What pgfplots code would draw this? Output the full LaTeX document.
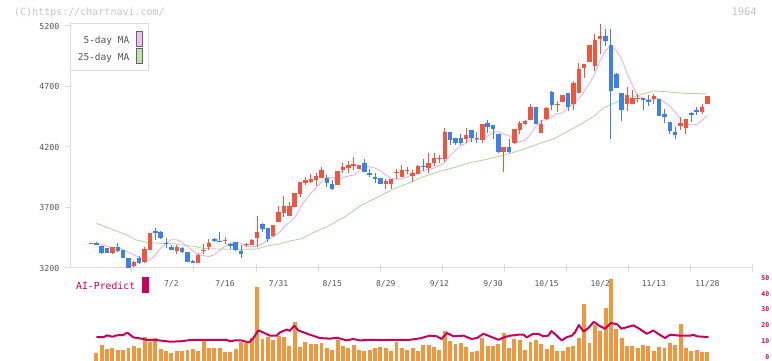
\documentclass[border=0pt]{standalone}
\usepackage{fontspec}
\setmainfont{DejaVu Sans Mono}
\usepackage{pgfplots}
\pgfplotsset{compat=1.18}
\usepackage{pgfplotstable}
\definecolor{candleup}{HTML}{F0553F}
\definecolor{candledn}{HTML}{3F7FE8}
\definecolor{mafive}{HTML}{E6B2E6}
\definecolor{matwentyfive}{HTML}{B2D9A2}
\definecolor{mafivebox}{HTML}{F0C0F0}
\definecolor{matwentyfivebox}{HTML}{C0E0B0}
\definecolor{vol}{HTML}{F0963C}
\definecolor{ai}{HTML}{C8005A}
\definecolor{axisgray}{HTML}{DDDDDD}
\definecolor{labgray}{HTML}{555555}
\definecolor{faint}{HTML}{C4C4C4}

% candles: index, open, high, low, close
\pgfplotstableread{
i o h l c
0 3400 3408 3400 3408
4 3327 3376 3313 3376
8 3217 3261 3206 3247
10 3252 3376 3239 3357
11 3349 3487 3349 3487
16 3341 3390 3313 3376
20 3244 3321 3244 3307
21 3337 3396 3313 3345
22 3371 3440 3349 3404
25 3422 3453 3396 3430
29 3393 3409 3376 3401
30 3390 3437 3390 3434
31 3448 3630 3371 3498
34 3464 3555 3453 3555
35 3580 3712 3580 3663
36 3657 3795 3624 3712
37 3630 3748 3630 3712
38 3707 3823 3707 3823
39 3812 3911 3790 3911
40 3900 3949 3886 3927
41 3911 3977 3900 3933
42 3927 3982 3878 3960
43 3947 4037 3947 4010
46 3886 3999 3886 3999
47 4010 4071 3982 4032
48 4026 4087 3982 4048
49 4046 4115 4010 4060
50 4021 4051 4021 4051
55 3897 3938 3856 3922
56 3897 3938 3856 3938
57 3986 4015 3938 3994
58 3949 4054 3949 4010
59 3998 4038 3977 4006
60 3960 4010 3913 3985
61 3980 4049 3980 4043
63 4027 4148 3982 4065
64 4071 4148 4043 4109
65 4105 4134 4071 4113
66 4098 4357 4079 4324
70 4266 4357 4236 4296
73 4258 4390 4236 4390
77 4161 4200 3996 4200
79 4230 4349 4225 4349
80 4341 4418 4307 4401
81 4390 4423 4382 4418
82 4423 4555 4423 4533
84 4319 4423 4319 4390
85 4429 4528 4423 4522
87 4546 4583 4489 4554
88 4575 4633 4575 4633
90 4553 4746 4506 4726
91 4646 4892 4646 4845
92 4850 4883 4773 4883
93 4905 5043 4905 5043
94 4872 5131 4828 5084
95 5093 5214 4971 5117
100 4553 4699 4500 4630
101 4555 4671 4555 4602
102 4594 4635 4569 4608
105 4597 4635 4553 4622
110 4374 4451 4341 4401
111 4360 4431 4310 4431
114 4492 4553 4476 4531
115 4553 4622 4553 4622
}\upcandles

\pgfplotstableread{
i o h l c
1 3409 3415 3390 3393
2 3382 3382 3313 3327
3 3363 3368 3327 3327
5 3376 3404 3335 3343
6 3349 3349 3280 3280
7 3280 3280 3203 3203
9 3285 3299 3233 3244
12 3506 3528 3431 3487
13 3500 3506 3440 3445
14 3409 3445 3368 3396
15 3376 3390 3349 3349
17 3368 3376 3321 3329
18 3335 3335 3252 3252
19 3261 3266 3239 3244
23 3440 3451 3418 3426
24 3426 3495 3418 3418
26 3396 3404 3357 3385
27 3412 3418 3341 3349
28 3341 3390 3280 3316
32 3564 3575 3500 3525
33 3531 3531 3418 3440
44 3944 3971 3872 3905
45 3894 3927 3845 3856
51 4065 4101 3993 3993
52 3985 4021 3949 3971
53 3952 3982 3900 3938
54 3944 3944 3897 3897
62 4043 4098 4004 4032
67 4324 4324 4217 4258
68 4274 4274 4217 4236
69 4274 4307 4217 4236
71 4338 4338 4244 4272
72 4277 4324 4236 4263
74 4401 4423 4319 4368
75 4382 4382 4269 4349
76 4308 4308 4148 4161
78 4200 4266 4148 4159
83 4533 4533 4390 4390
86 4655 4666 4506 4550
89 4646 4649 4500 4533
96 5117 5175 5038 5079
97 5043 5175 4266 4663
98 4801 4809 4685 4691
99 4644 4644 4415 4506
103 4602 4602 4506 4586
104 4586 4630 4542 4575
106 4597 4597 4459 4459
107 4473 4514 4396 4451
108 4409 4409 4310 4332
109 4324 4362 4263 4299
112 4481 4487 4409 4465
113 4506 4533 4465 4492
}\dncandles

\pgfplotstableread{
i m
0 3405
1 3404
2 3392
3 3378
4 3370
5 3366
6 3353
7 3331
8 3306
9 3290
10 3263
11 3266
12 3308
13 3364
14 3404
15 3434
16 3433
17 3411
18 3379
19 3340
20 3310
21 3302
22 3295
23 3310
24 3345
25 3380
26 3405
27 3413
28 3402
29 3380
30 3376
31 3377
32 3400
33 3435
34 3460
35 3490
36 3536
37 3579
38 3616
39 3693
40 3764
41 3817
42 3861
43 3911
44 3948
45 3947
46 3933
47 3946
48 3960
49 3968
50 3999
51 4038
52 4037
53 4025
54 4003
55 3970
56 3944
57 3933
58 3938
59 3952
60 3974
61 3987
62 4008
63 4015
64 4026
65 4047
66 4072
67 4129
68 4174
69 4208
70 4233
71 4270
72 4260
73 4261
74 4291
75 4318
76 4328
77 4306
78 4294
79 4247
80 4244
81 4254
82 4305
83 4372
84 4418
85 4426
86 4451
87 4477
88 4481
89 4530
90 4558
91 4599
92 4658
93 4724
94 4806
95 4916
96 4994
97 5041
98 4997
99 4927
100 4811
101 4714
102 4618
103 4607
104 4586
105 4600
106 4599
107 4570
108 4539
109 4488
110 4433
111 4388
112 4383
113 4386
114 4418
115 4464
}\mafivetab

\pgfplotstableread{
i m
1 3569
3.5 3528
6.6 3473
8.5 3431
10.4 3412
13 3404
15 3402
16.5 3392
19 3380
21 3362
24 3356
28 3354
31 3357
32.5 3380
35 3398
37.4 3426
39.3 3442
41.2 3487
44.3 3547
47.4 3624
50.5 3721
53.6 3790
56.7 3858
59.5 3905
61.7 3949
64.8 3996
67.9 4032
71 4073
74.1 4101
77.2 4134
80.3 4175
83.4 4225
86.6 4272
88.5 4320
90.6 4368
93.7 4451
95.6 4520
97.5 4561
100 4597
102.4 4630
104.9 4663
107.4 4657
110.5 4644
113 4641
115 4638
}\matwentyfivetab

\pgfplotstableread{
i v
1 2.7
2 7.8
3 4.8
4 5.9
5 4.6
6 4.2
7 5.9
8 7.2
9 5.9
10 12.6
11 9.7
12 12.2
13 5.1
14 4.0
15 2.7
16 4.0
17 3.8
18 4.6
19 5.3
20 4.0
21 10.7
22 5.9
23 5.5
24 5.9
25 3.4
26 3.4
27 4.8
28 9.7
29 8.8
30 12.3
31 44.0
32 11.6
33 12.6
34 10.9
35 13.5
36 12.8
37 7.2
38 22.3
39 6.5
40 9.7
41 8.4
42 8.4
43 9.1
44 5.9
45 4.6
46 10.9
47 7.2
48 5.9
49 7.8
50 4.6
51 4.0
52 4.6
53 5.9
54 6.3
55 5.9
56 4.0
57 9.7
58 5.9
59 4.6
60 5.9
61 4.0
62 7.8
63 7.8
64 6.5
65 4.6
66 16.6
67 10.3
68 8.4
69 9.1
70 6.5
71 3.4
72 4.0
73 12.2
74 7.2
75 7.2
76 8.4
77 15.4
78 5.9
79 11.6
80 10.9
81 4.6
82 9.7
83 10.9
84 8.4
85 5.3
86 7.8
87 4.0
88 4.0
89 6.5
90 7.2
91 12.2
92 33.7
93 9.1
94 20.4
95 16.6
96 31.2
97 49.5
98 17.9
99 12.2
100 7.2
101 7.2
102 5.9
103 7.8
104 7.2
105 4.0
106 6.5
107 5.9
108 9.1
109 7.8
110 21.1
111 5.9
112 4.0
113 4.6
114 3.4
115 3.4
}\voltab

\pgfplotstableread{
i a
1 12.6
2.4 12.6
3 13.7
4 12.8
4.8 13.7
6 13.9
6.8 15.4
7.9 12.4
9.1 11.8
10.4 10.9
12.2 10.7
14.7 9.7
16.6 9.9
18.5 10.7
20.3 10.9
23.4 10.9
25.3 10.9
25.9 9.9
26.8 10.5
28 10.5
29.5 9.2
30.3 12.0
31.2 16.8
32.1 15.6
33.4 13.5
34.6 13.5
35.3 15.6
36.5 17.3
37.1 16.6
37.9 19.8
38.7 16.8
40.5 14.5
42.7 12.0
44.6 11.6
45.9 12.2
47.7 10.5
48.9 11.4
50.2 10.5
52.1 10.9
54.6 10.7
57.1 10.9
59.5 10.9
61.4 11.8
63.2 13.5
64.5 13.1
65.4 11.4
66.4 15.2
67.6 13.1
69.5 13.5
71 11.4
72 12.0
73.2 14.7
74.4 13.1
76 10.9
77.2 12.6
78.2 13.5
79.7 14.1
80.7 14.1
81.3 12.4
82.5 14.7
83.4 14.7
84.4 13.1
85.3 13.5
85.9 16.4
86.9 13.5
87.8 10.5
88.8 12.6
89.7 13.5
90.3 15.6
91 20.2
91.9 16.2
92.8 18.3
93.8 22.3
95 19.4
95.9 17.9
97 21.5
98.1 20.8
99 17.9
100 18.9
101.2 20.0
102.1 18.3
103.7 14.7
104.9 16.8
105.8 14.7
107.1 12.0
108 14.1
109.9 13.5
111.8 13.5
112.4 14.1
113 13.1
115.2 12.6
}\aitab

\pgfplotsset{
  candle/.style 2 args={draw=none, mark=none, forget plot,
    error bars/.cd, y dir=plus, y explicit, error mark=none,
    error bar style={draw=#1, line width=#2}},
}

\begin{document}
\begin{tikzpicture}[x=1pt,y=1pt]
\path[use as bounding box] (0,0) rectangle (772,361);

% ---------------- price panel ----------------
\begin{axis}[
  at={(70pt,93pt)}, anchor=south west,
  scale only axis, width=682pt, height=244pt,
  xmin=-3.918, xmax=123.321, ymin=3200, ymax=5216.5,
  clip=false,
  axis x line*=bottom, axis y line*=left,
  axis line style={draw=axisgray, line width=1pt, -},
  ytick={3200,3700,4200,4700,5200},
  yticklabels={3200,3700,4200,4700,5200},
  xtick={15,25,35,45,55,65,75,85,95,105,115},
  xticklabels={7/2,7/16,7/31,8/15,8/29,9/12,9/30,10/15,10/2,11/13,11/28},
  minor xtick={7.649,19.216,30.784,42.351,53.918,65.485,77.052,88.619,100.187,111.754,123.321},
  major tick length=5pt, minor tick length=8.5pt,
  xtick align=center, ytick align=outside,
  every major x tick/.append style={draw=none},
  every minor x tick/.append style={draw=axisgray, line width=1pt},
  every major y tick/.append style={draw=axisgray, line width=1pt},
  yticklabel style={font=\fontsize{8.3}{9}\selectfont, text=labgray, inner sep=0pt, anchor=east, xshift=-5.5pt},
  xticklabel style={font=\fontsize{8}{9}\selectfont, text=labgray, inner sep=0pt, anchor=center, yshift=-13pt},
]
\addplot[matwentyfive, line width=0.9pt, mark=none] table[x=i, y=m] {\matwentyfivetab};
\addplot[mafive, line width=0.9pt, mark=none] table[x=i, y=m] {\mafivetab};
% wicks
\addplot[candle={candleup}{1pt}] table[x=i, y=l, y error expr=\thisrow{h}-\thisrow{l}] {\upcandles};
\addplot[candle={candledn}{1pt}] table[x=i, y=l, y error expr=\thisrow{h}-\thisrow{l}] {\dncandles};
% bodies
\addplot[candle={candleup}{4.5pt}] table[x=i, y=o, y error expr=\thisrow{c}-\thisrow{o}] {\upcandles};
\addplot[candle={candledn}{4.5pt}] table[x=i, y=c, y error expr=\thisrow{o}-\thisrow{c}] {\dncandles};
\end{axis}

% ---------------- volume / AI panel ----------------
\begin{axis}[
  at={(70pt,0pt)}, anchor=south west,
  scale only axis, width=682pt, height=91pt,
  xmin=-3.918, xmax=123.321, ymin=-2.53, ymax=55.06,
  axis x line=none, axis y line*=right,
  y axis line style={draw=none},
  xtick=\empty,
  ytick={0,10,20,30,40,50},
  yticklabels={0,10,20,30,40,50},
  major tick length=0pt,
  yticklabel style={font=\bfseries\fontsize{6.5}{7}\selectfont, text=ai, inner sep=0pt, anchor=east, xshift=17.5pt},
]
\addplot[candle={vol}{3.9pt}] table[x=i, y expr=-2.53, y error expr=\thisrow{v}+2.53] {\voltab};
\addplot[ai, line width=2pt, mark=none, line join=round] table[x=i, y=a] {\aitab};
\end{axis}

% ---------------- texts and legend ----------------
\node[anchor=west, text=faint, font=\fontsize{10}{12}\selectfont, inner sep=0pt] at (14,348.5) {(C)https://chartnavi.com/};
\node[anchor=east, text=faint, font=\fontsize{10.5}{12}\selectfont, inner sep=0pt] at (757,349.3) {1964};

\draw[axisgray, line width=1pt, fill=white] (70,290) rectangle (148,337);
\node[anchor=base east, text=labgray, font=\fontsize{9.5}{11}\selectfont, inner sep=0pt] at (129.5,317) {5-day MA};
\node[anchor=base east, text=labgray, font=\fontsize{9.5}{11}\selectfont, inner sep=0pt] at (129.5,300.3) {25-day MA};
\draw[black!60, line width=0.8pt, fill=mafivebox] (136.3,314.3) rectangle (142.3,329.7);
\draw[black!60, line width=0.8pt, fill=matwentyfivebox] (136.3,297.7) rectangle (142.3,312.3);

\node[anchor=base west, text=ai, font=\fontsize{9.8}{11}\selectfont, inner sep=0pt] at (76,71.3) {AI-Predict};
\fill[ai] (142.3,68.3) rectangle (148.7,84.3);
\end{tikzpicture}
\end{document}
